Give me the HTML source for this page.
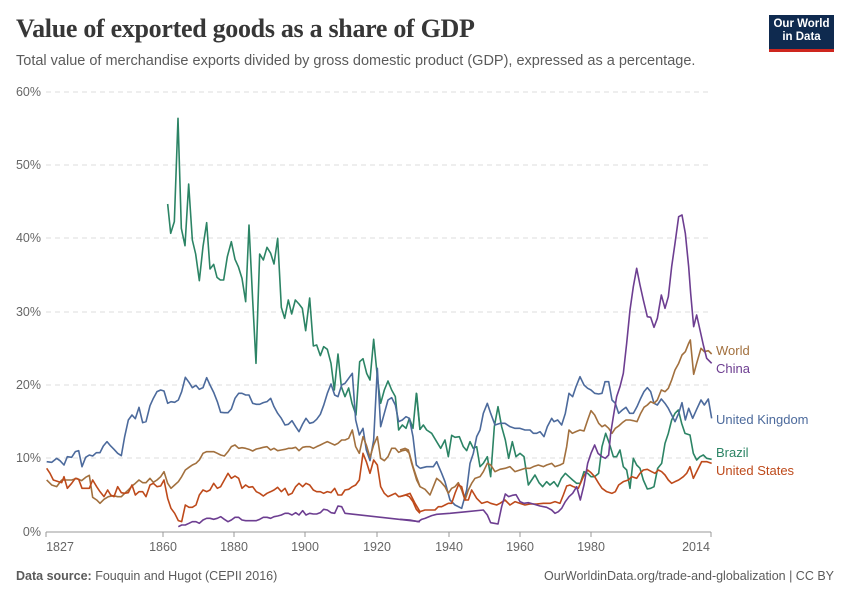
<!DOCTYPE html>
<html><head><meta charset="utf-8"><style>
body{margin:0;background:#fff;width:850px;height:600px;overflow:hidden;font-family:"Liberation Sans",sans-serif}
.t{position:absolute;left:16px;top:14px;font-family:"Liberation Serif",serif;font-size:26px;color:#373737;font-weight:bold;letter-spacing:-0.3px}
.s{position:absolute;left:16px;top:53px;font-size:14.5px;color:#5b5b5b}
.logo{position:absolute;left:769px;top:15px;width:65px;height:37px;background:#0f2a4f;border-bottom:3px solid #ce261e;color:#fff;font-size:11.5px;font-weight:bold;text-align:center;line-height:13px;padding-top:3px;box-sizing:border-box}
.f{position:absolute;top:569px;font-size:12.5px;color:#5b5b5b}
</style></head><body>
<div class="t">Value of exported goods as a share of GDP</div>
<div class="s">Total value of merchandise exports divided by gross domestic product (GDP), expressed as a percentage.</div>
<div class="logo">Our World<br>in Data</div>
<svg width="850" height="600" style="position:absolute;left:0;top:0">
<g stroke="#ddd" stroke-dasharray="5,4" stroke-width="1">
<line x1="46" x2="711" y1="92" y2="92"/><line x1="46" x2="711" y1="165" y2="165"/><line x1="46" x2="711" y1="238" y2="238"/><line x1="46" x2="711" y1="312" y2="312"/><line x1="46" x2="711" y1="385" y2="385"/><line x1="46" x2="711" y1="458" y2="458"/>
</g>
<line x1="46" x2="711" y1="532" y2="532" stroke="#999"/>
<g stroke="#999"><line x1="46" x2="46" y1="532" y2="537"/><line x1="163" x2="163" y1="532" y2="537"/><line x1="234" x2="234" y1="532" y2="537"/><line x1="305" x2="305" y1="532" y2="537"/><line x1="377" x2="377" y1="532" y2="537"/><line x1="449" x2="449" y1="532" y2="537"/><line x1="520" x2="520" y1="532" y2="537"/><line x1="591" x2="591" y1="532" y2="537"/><line x1="711" x2="711" y1="532" y2="537"/></g>
<g font-size="12.5" fill="#666" text-anchor="end">
<text x="41" y="96">60%</text><text x="41" y="169">50%</text><text x="41" y="242">40%</text><text x="41" y="316">30%</text><text x="41" y="389">20%</text><text x="41" y="462">10%</text><text x="41" y="536">0%</text></g>
<g font-size="12.5" fill="#666" text-anchor="middle">
<text x="60" y="551">1827</text><text x="163" y="551">1860</text><text x="234" y="551">1880</text><text x="305" y="551">1900</text><text x="377" y="551">1920</text><text x="449" y="551">1940</text><text x="520" y="551">1960</text><text x="591" y="551">1980</text><text x="696" y="551">2014</text></g>
<g fill="none" stroke-width="1.6" stroke-linejoin="round">
<g transform="translate(40,100) scale(0.33333)">
<polyline vector-effect="non-scaling-stroke" stroke="#2c8465" points="383,312 392,400 403,365 414,55 424,385 435,437 446,252 457,420 467,462 478,542 489,440 500,368 510,507 521,493 531,532 541,540 551,540 562,470 574,425 585,478 595,500 606,535 617,605 627,375 638,600 648,790 659,462 670,480 681,442 692,460 702,492 713,415 724,622 734,655 745,600 755,642 766,600 777,612 787,625 797,692 809,594 820,738 830,735 841,767 851,740 862,748 873,790 883,870 894,762 904,860 915,890 926,864 936,910 948,945 959,785 969,776 980,820 990,840 1001,718 1012,830 1022,910 1033,870 1044,843 1055,870 1066,890 1076,990 1087,975 1098,985 1108,955 1119,985 1129,880 1140,990"/>
<polyline vector-effect="non-scaling-stroke" stroke="#4c6a9c" points="20,1085 35,1087 50,1075 60,1082 72,1095 82,1070 95,1072 106,1055 116,1052 126,1100 137,1072 148,1065 158,1068 169,1058 180,1058 190,1038 201,1025 212,1038 222,1048 233,1060 244,1067 254,1010 265,960 276,945 286,956 297,922 308,968 318,965 330,917 340,895 351,875 362,870 372,873 383,910 393,905 404,907 415,900 425,875 436,832 447,847 457,863 468,856 478,868 489,863 500,833 510,855 521,877 532,905 542,937 553,938 564,938 574,927 585,895 596,880 606,880 617,885 627,885 638,910 649,913 659,913 670,908 681,905 692,895 702,920 713,940 724,955 735,975 745,973 756,962 767,980 777,995 788,972 798,955 809,970 820,967 830,958 841,943 851,916 862,880 873,852 884,885 894,890 905,855 915,850 926,835 937,820 947,960 958,1005 969,985 979,1050 990,1082 1001,1020 1012,805 1022,980 1033,940 1044,900 1055,893 1066,915 1076,965 1087,960 1098,950 1108,955 1119,1010 1129,1095 1140,1105"/>
<polyline vector-effect="non-scaling-stroke" stroke="#a2703e" points="20,1140 35,1155 50,1160 65,1140 80,1140 95,1140 110,1135 125,1142 137,1132 148,1126 158,1192 170,1200 180,1210 192,1198 205,1190 220,1187 233,1190 244,1190 254,1180 265,1170 276,1158 286,1150 297,1140 308,1148 318,1148 330,1135 340,1147 351,1140 362,1130 372,1115 383,1150 393,1165 404,1155 415,1145 425,1130 436,1110 447,1102 457,1095 468,1090 478,1080 489,1060 500,1055 510,1055 521,1055 532,1060 542,1065 553,1068 564,1055 574,1040 585,1035 596,1045 606,1043 617,1045 627,1048 638,1053 649,1047 659,1045 670,1042 681,1040 692,1050 702,1045 713,1052 724,1050 735,1048 745,1045 756,1045 767,1042 777,1052 788,1042 798,1040 809,1040 820,1045 830,1040 841,1035 851,1030 862,1025 873,1030 884,1035 894,1030 905,1020 915,1020 926,1015 937,990 947,1040 958,1060 969,1010 979,1035 990,1072 1001,1035 1012,1010 1022,1075 1033,1082 1044,1070 1055,1045 1066,1045 1076,1057 1087,1052 1098,1050 1108,1060 1119,1100 1129,1130 1140,1160"/>
<polyline vector-effect="non-scaling-stroke" stroke="#be4a1b" points="20,1105 30,1120 40,1140 55,1145 65,1148 72,1130 82,1165 95,1150 106,1135 116,1138 126,1165 137,1165 148,1165 158,1140 170,1160 180,1175 192,1190 203,1170 212,1185 222,1190 233,1160 244,1178 254,1180 265,1178 276,1155 286,1185 297,1175 308,1175 318,1190 330,1155 340,1150 351,1160 362,1158 372,1140 383,1195 393,1225 404,1240 415,1262 425,1265 436,1215 447,1222 457,1222 468,1215 478,1185 489,1170 500,1175 510,1170 521,1150 532,1165 542,1160 553,1140 564,1120 574,1135 585,1128 596,1135 606,1165 617,1155 627,1162 638,1160 649,1175 659,1180 670,1188 681,1180 692,1175 702,1170 713,1162 724,1175 735,1165 745,1185 756,1180 767,1160 777,1150 788,1160 798,1150 809,1155 820,1170 830,1175 841,1175 851,1180 862,1175 873,1178 884,1165 894,1185 905,1185 915,1170 926,1168 937,1160 947,1155 958,1140 969,1060 979,1085 990,1120 1001,1080 1012,1095 1022,1160 1033,1180 1044,1190 1055,1185 1066,1180 1076,1190 1087,1188 1098,1185 1108,1190 1119,1205 1129,1228 1140,1240"/>
<polyline vector-effect="non-scaling-stroke" stroke="#6d3e91" points="415,1280 425,1275 436,1275 447,1270 457,1265 468,1265 478,1270 489,1260 500,1255 510,1255 521,1258 532,1255 542,1250 553,1258 564,1265 574,1260 585,1252 596,1252 606,1260 617,1262 627,1262 638,1262 649,1262 659,1258 670,1252 681,1252 692,1255 702,1250 713,1248 724,1245 735,1240 745,1240 756,1245 767,1238 777,1245 788,1232 798,1245 809,1240 820,1242 830,1242 841,1238 851,1228 862,1230 873,1238 884,1240 894,1218 905,1220 915,1240 1140,1265"/>
</g>
<g transform="translate(400,200) scale(0.33333)">
<polyline vector-effect="non-scaling-stroke" stroke="#2c8465" points="50,580 60,688 70,675 80,690 95,700 110,725 122,745 135,720 145,770 155,706 165,712 178,710 190,740 200,752 210,725 220,745 230,740 240,800 250,790 262,770 272,830 283,680 294,620 305,680 316,720 326,775 337,725 348,770 360,760 372,770 385,855 395,840 405,825 417,848 428,860 440,845 450,855 462,845 473,860 484,835 496,820 507,830 518,840 530,850 541,850 552,815 563,820 573,830 584,830 596,820 606,740 617,700 628,730 640,770 650,770 660,750 670,800 680,810 690,865 700,775 710,795 720,805 730,840 742,867 752,865 762,860 773,805 785,790 795,730 805,700 815,660 825,640 835,630 845,670 855,700 870,705 880,760 890,780 900,770 910,765 920,775 935,778"/>
<polyline vector-effect="non-scaling-stroke" stroke="#4c6a9c" points="60,805 80,800 100,800 110,785 125,820 135,845 150,900 165,915 185,925 200,870 210,790 220,760 230,710 240,690 250,640 262,610 272,640 285,675 300,670 315,670 330,680 345,685 360,685 375,690 390,690 400,700 410,700 420,695 432,710 442,680 455,655 462,665 473,660 485,675 496,640 507,580 518,590 528,560 540,530 552,555 563,565 573,570 584,580 596,582 606,580 615,545 626,545 636,600 646,610 656,640 667,630 678,622 689,640 700,640 711,620 722,595 732,575 742,563 752,575 762,610 772,615 784,597 795,610 805,625 815,645 825,665 836,640 846,608 856,660 866,625 878,655 890,628 903,600 913,615 925,597 935,655"/>
<polyline vector-effect="non-scaling-stroke" stroke="#a2703e" points="0,750 15,745 25,750 35,790 50,840 60,860 75,868 90,885 100,860 110,835 122,845 135,860 145,880 155,865 165,860 175,848 185,870 195,900 205,870 215,850 225,835 240,830 250,815 262,790 272,795 285,815 300,808 315,805 330,800 345,815 360,810 375,805 390,805 400,800 415,795 430,800 440,795 455,790 465,800 480,795 490,790 500,740 507,690 517,700 528,695 540,690 552,693 563,660 573,632 584,645 596,670 606,680 615,675 626,685 636,700 646,685 656,678 667,668 678,660 690,660 700,662 711,665 722,640 732,622 742,615 752,605 762,610 772,600 784,570 795,575 805,565 815,540 825,510 836,490 846,465 856,455 866,430 871,420 881,523 890,490 903,445 913,455 925,452 935,462"/>
<polyline vector-effect="non-scaling-stroke" stroke="#be4a1b" points="0,890 15,885 30,880 45,910 60,935 75,930 90,930 105,930 115,920 125,920 135,915 145,910 155,910 165,880 175,855 185,860 195,900 205,900 215,870 230,895 245,910 262,905 272,910 290,915 300,910 315,900 330,915 345,905 360,910 375,915 390,912 410,912 430,910 450,910 465,905 480,910 490,885 500,858 510,855 520,860 535,865 550,830 563,810 573,818 584,830 596,850 606,865 620,875 636,880 646,875 656,855 670,845 685,840 695,830 710,835 720,820 730,810 742,808 755,815 765,820 775,810 785,815 795,825 805,840 815,850 825,845 836,840 850,830 860,820 870,800 880,835 890,815 905,785 920,785 935,790"/>
<polyline vector-effect="non-scaling-stroke" stroke="#6d3e91" points="0,958 30,960 55,965 65,958 75,955 95,947 110,943 150,940 200,935 250,930 262,945 272,968 283,970 294,972 305,920 316,882 326,890 337,886 348,884 360,905 372,910 385,908 400,912 420,918 440,922 455,930 465,940 475,935 485,925 496,905 507,890 518,880 530,860 541,900 552,855 563,790 573,760 584,735 594,760 606,770 616,775 626,765 632,700 640,650 650,590 660,560 670,520 680,430 690,330 700,260 710,205 720,255 730,300 742,350 752,352 762,382 772,355 784,285 795,325 805,290 815,200 825,130 836,50 846,45 856,100 866,200 872,280 881,380 890,345 900,390 910,435 920,475 935,490"/>
</g>
</g>
<g font-size="13">
<text x="716" y="355" fill="#a2703e">World</text>
<text x="716" y="373" fill="#6d3e91">China</text>
<text x="716" y="424" fill="#4c6a9c">United Kingdom</text>
<text x="716" y="457" fill="#2c8465">Brazil</text>
<text x="716" y="475" fill="#be4a1b">United States</text>
</g>
</svg>
<div class="f" style="left:16px"><b>Data source:</b> Fouquin and Hugot (CEPII 2016)</div>
<div class="f" style="right:16px">OurWorldinData.org/trade-and-globalization | CC BY</div>
</body></html>
